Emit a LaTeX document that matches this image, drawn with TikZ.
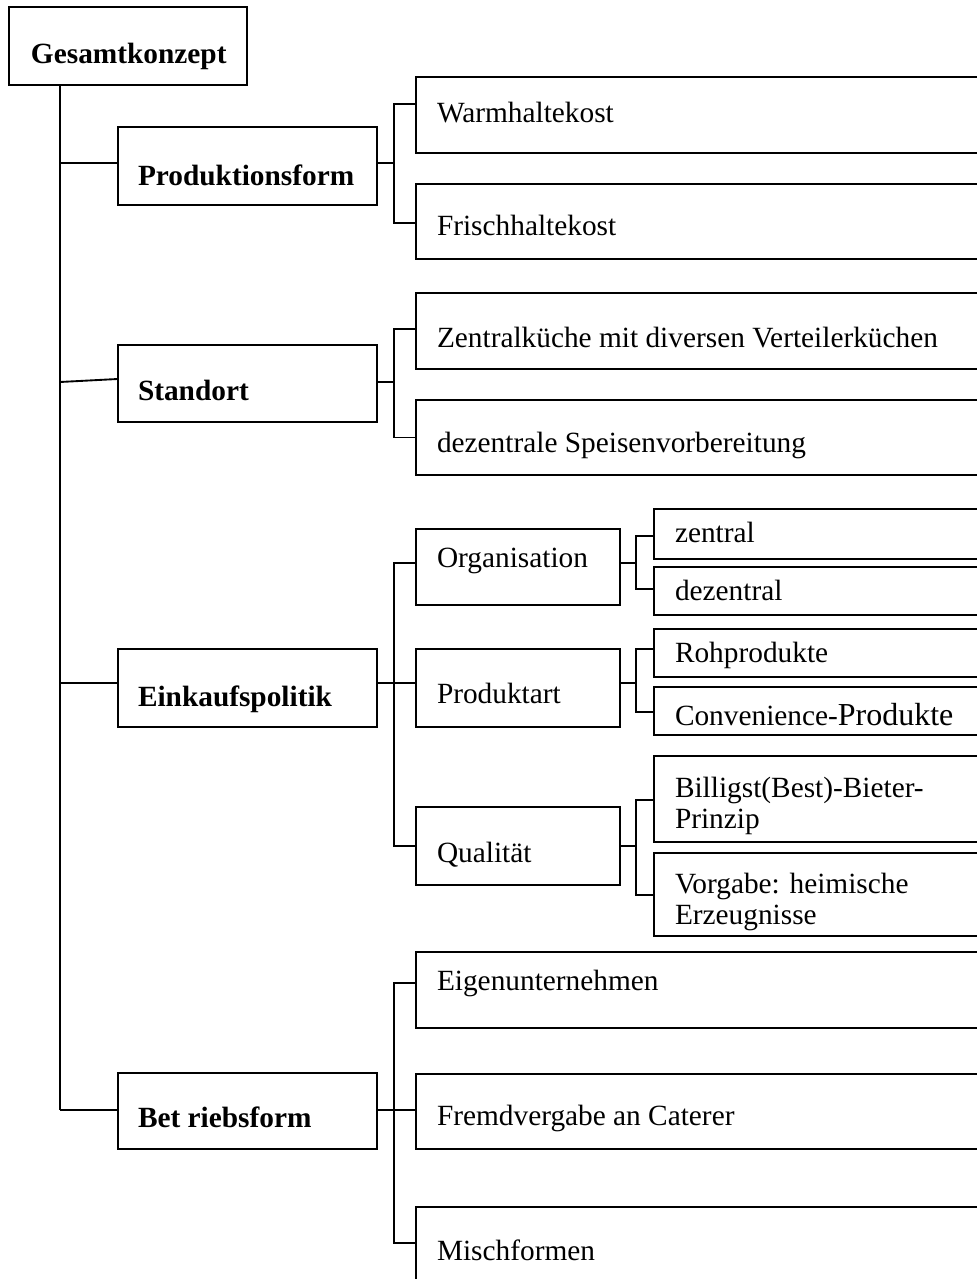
\documentclass[tikz,border=0pt]{standalone}
\usepackage{fontspec}
\setmainfont{Liberation Serif}
\tikzset{
  box/.style={draw, line width=1.4pt, inner sep=0pt, outer sep=0pt, font=\fontsize{22}{23.25}\selectfont},
  conn/.style={line width=1.4pt},
}
% name, x1, y1, x2, y2, baseline, left pad (px), text
\newcommand\mybx[8]{%
  \pgfmathsetmacro\bxW{(#4-#2)*0.75}%
  \pgfmathsetmacro\bxH{(#5-#3)*0.75}%
  \pgfmathsetmacro\bxD{(#6-(#3+#5)/2)*1.5}%
  \pgfmathsetmacro\bxTH{max(\bxD,0)}%
  \pgfmathsetmacro\bxTD{max(-\bxD,0)}%
  \pgfmathsetmacro\bxP{#7*0.75}%
  \node[box, anchor=north west, minimum width=\bxW pt, minimum height=\bxH pt,
        text height=\bxTH pt, text depth=\bxTD pt] (#1) at (#2,#3)
        {\makebox[\bxW pt][l]{\hspace*{\bxP pt}#8}};%
}
\begin{document}
\begin{tikzpicture}[x=0.75pt,y=-0.75pt]
\useasboundingbox (0,0) rectangle (976,1279);
\fill[white] (0,0) rectangle (976,1279);

% level 0 and 1
\mybx{G}{9}{7}{247}{85}{63}{22}{\bfseries Gesamtkonzept}
\mybx{P}{118}{127}{377}{205}{185}{20}{\bfseries Produktionsform}
\mybx{S}{118}{345}{377}{422}{400}{20}{\bfseries Standort}
\mybx{E}{118}{649}{377}{727}{706}{20}{\bfseries Einkaufspolitik}
\mybx{B}{118}{1073}{377}{1149}{1127}{20}{\bfseries Bet riebsform}

% level 2
\mybx{W}{416}{77}{990}{153}{122}{21}{Warmhaltekost}
\mybx{F}{416}{184}{990}{259}{235}{21}{Frischhaltekost}
\mybx{Z}{416}{293}{990}{369}{347}{21}{Zentralküche mit diversen Verteilerküchen}
\mybx{D}{416}{400}{990}{475}{452}{21}{dezentrale Speisenvorbereitung}
\mybx{O}{416}{529}{620}{605}{567}{21}{Organisation}
\mybx{PA}{416}{649}{620}{727}{703}{21}{Produktart}
\mybx{Q}{416}{807}{620}{885}{862}{21}{Qualität}
\mybx{EU}{416}{952}{990}{1028}{990}{21}{Eigenunternehmen}
\mybx{FV}{416}{1074}{990}{1149}{1125}{21}{Fremdvergabe an Caterer}
\mybx{MF}{416}{1207}{990}{1300}{1260}{21}{Mischformen}

% level 3
\mybx{ZE}{654}{509}{990}{559}{542}{21}{zentral}
\mybx{DZ}{654}{567}{990}{615}{600}{21}{dezentral}
\mybx{RP}{654}{629}{990}{677}{662}{21}{Rohprodukte}
\mybx{CP}{654}{687}{990}{735}{725}{21}{Convenience-{\fontsize{24}{26}\selectfont Produkte}}
\mybx{BB}{654}{756}{990}{842}{797}{21}{\parbox[t]{7cm}{Billigst(Best)-Bieter-\\Prinzip}}
\mybx{VG}{654}{853}{990}{936}{893}{21}{\parbox[t]{7cm}{Vorgabe: heimische\\Erzeugnisse}}

% trunk
\coordinate (jP) at (60,163);
\coordinate (jS) at (60,382);
\coordinate (jE) at (60,683);
\coordinate (jB) at (60,1110);
\draw[conn] (G.south -| jB) -- (jB);
\draw[conn] (jP) -- ([yshift=2.25pt]P.west);
\draw[conn] (jS) -- ([yshift=3.4pt]S.west);
\draw[conn] (jE) -- ([yshift=3.75pt]E.west);
\draw[conn] (jB) -- ([yshift=0.75pt]B.west);

% Produktionsform
\coordinate (b1) at (394,163);
\draw[conn] ([yshift=2.25pt]P.east) -- (b1);
\draw[conn] ([yshift=8.25pt]W.west) -| (b1) |- ([yshift=-1.1pt]F.west);

% Standort
\coordinate (b2) at (394,382);
\draw[conn] ([yshift=1.1pt]S.east) -- (b2);
\draw[conn] ([yshift=1.5pt]Z.west) -| (b2) |- (D.west);

% Einkaufspolitik
\coordinate (b3) at (394,683);
\draw[conn] ([yshift=3.75pt]E.east) -- (b3);
\draw[conn] ([yshift=3pt]O.west) -| (b3) |- (Q.west);
\draw[conn] (b3) -- ([yshift=3.75pt]PA.west);

% Organisation
\coordinate (b4) at (636,563);
\draw[conn] ([yshift=3pt]O.east) -- (b4);
\draw[conn] ([yshift=-1.5pt]ZE.west) -| (b4) |- ([yshift=1.5pt]DZ.west);

% Produktart
\coordinate (b5) at (636,683);
\draw[conn] ([yshift=3.75pt]PA.east) -- (b5);
\draw[conn] ([yshift=3pt]RP.west) -| (b5) |- ([yshift=-0.75pt]CP.west);

% Qualitaet
\coordinate (b6) at (636,846);
\draw[conn] (Q.east) -- (b6);
\draw[conn] ([yshift=-0.75pt]BB.west) -| (b6) |- ([yshift=-0.4pt]VG.west);

% Betriebsform
\coordinate (b7) at (394,1110);
\draw[conn] ([yshift=0.75pt]B.east) -- (b7);
\draw[conn] ([yshift=5.25pt]EU.west) -| (b7) |- ([yshift=7.9pt]MF.west);
\draw[conn] (b7) -- ([yshift=1.1pt]FV.west);
\end{tikzpicture}
\end{document}
